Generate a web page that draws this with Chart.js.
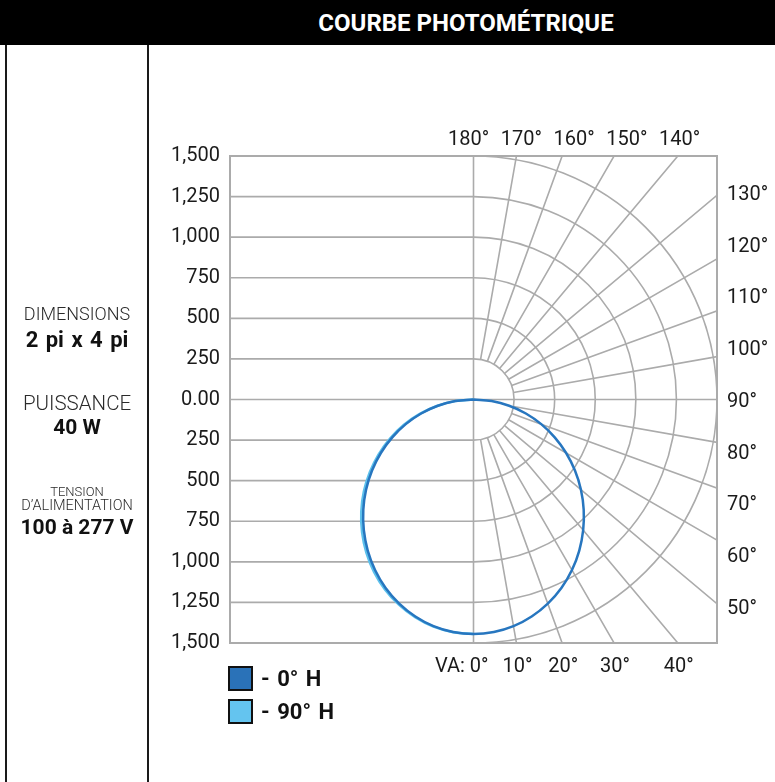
<!DOCTYPE html>
<html>
<head>
<meta charset="utf-8">
<script src="https://cdn.jsdelivr.net/npm/chart.js@4.4.1/dist/chart.umd.min.js"></script>
<style>
  html, body { margin: 0; padding: 0; background: #fff; }
  body { width: 775px; height: 782px; position: relative; overflow: hidden; font-family: Roboto, "Noto Sans", sans-serif; color: #1b1b1b; }
  #wrap { position: absolute; left: 0; top: 0; width: 775px; height: 782px; }
  #head { position: absolute; left: 0; top: 0; width: 775px; height: 45px; background: #000; }
  #head span { position: absolute; left: 466px; top: 23px; transform: translate(-50%, -50%); color: #fff; font-weight: 700; font-size: 24px; white-space: nowrap; }
  .vline { position: absolute; top: 45px; bottom: 0; width: 2px; background: #1a1a1a; }
  .side { position: absolute; left: 7px; width: 140px; text-align: center; transform: translateY(-50%); white-space: nowrap; line-height: 1; }
  .lt { font-weight: 300; color: #2a2a2a; }
  .bd { font-weight: 700; color: #111; }
  .lg { position: absolute; left: 228px; display: flex; align-items: center; font-weight: 700; font-size: 22px; color: #111; word-spacing: 2px; }
  .lg i { display: inline-block; width: 21px; height: 21px; border: 2px solid #111; margin-right: 8px; }
</style>
</head>
<body>
<div id="wrap"><canvas id="photo"></canvas></div>
<div id="head"><span>COURBE PHOTOMÉTRIQUE</span></div>
<div class="vline" style="left:5px"></div>
<div class="vline" style="left:147px"></div>

<div class="side lt" style="top:314px;font-size:18px">DIMENSIONS</div>
<div class="side bd" style="top:340px;font-size:22px;word-spacing:2px">2 pi x 4 pi</div>
<div class="side lt" style="top:403px;font-size:20.5px">PUISSANCE</div>
<div class="side bd" style="top:427px;font-size:21px">40 W</div>
<div class="side lt" style="top:491px;font-size:13px">TENSION</div>
<div class="side lt" style="top:506px;font-size:14.5px">D’ALIMENTATION</div>
<div class="side bd" style="top:527px;font-size:21px">100 à 277 V</div>

<div id="legend"></div>

<script>
// ---------- DATA ----------
const verticalAngles = [0, 5, 10, 15, 20, 25, 30, 35, 40, 45, 50, 55, 60, 65, 70, 75, 80, 85, 90];
const cd0H  = [1445, 1438, 1418, 1384, 1338, 1281, 1213, 1136, 1051, 960, 864, 763, 659, 552, 444, 334, 223, 112, 0];
const cd90H = [1445, 1439, 1421, 1389, 1345, 1291, 1226, 1151, 1068, 978, 882, 780, 675, 566, 456, 343, 229, 115, 0];
const seriesNames  = ['- 0° H', '- 90° H'];
const seriesColors = ['#2776bf', '#5dc1ec'];
const legendFills  = ['#2a72b8', '#64c4ef'];

const yTicks = [-1500, -1250, -1000, -750, -500, -250, 0, 250, 500, 750, 1000, 1250, 1500];
const rings = [250, 500, 750, 1000, 1250, 1500];
const spokeAngles = [10, 20, 30, 40, 50, 60, 70, 80, 100, 110, 120, 130, 140, 150, 160, 170];
const topLabels = ['180°', '170°', '160°', '150°', '140°'];
const rightLabels = ['130°', '120°', '110°', '100°', '90°', '80°', '70°', '60°', '50°'];
const bottomLabels = ['VA: 0°', '10°', '20°', '30°', '40°'];

const GRID = '#ababab';
const LABEL_FONT = '20px Roboto, "Noto Sans", sans-serif';

// polar (angle from nadir, candela) -> x/y, side = -1 left, +1 right
function toXY(angles, values, side) {
  return angles.map((a, i) => {
    const t = a * Math.PI / 180;
    return { x: side * values[i] * Math.sin(t), y: -values[i] * Math.cos(t) };
  });
}
const curve0 = toXY(verticalAngles, cd0H, -1).reverse().concat(toXY(verticalAngles, cd0H, 1).slice(1));
const curve90 = toXY(verticalAngles, cd90H, -1).reverse();

// ---------- POLAR GRID ----------
const polarGrid = {
  id: 'polarGrid',
  beforeDatasetsDraw(chart) {
    const { ctx, chartArea: a, scales: { x, y } } = chart;
    const cx = x.getPixelForValue(0), cy = y.getPixelForValue(0);
    const k = (y.getPixelForValue(0) - y.getPixelForValue(1000)) / 1000;
    ctx.save();
    ctx.beginPath(); ctx.rect(a.left, a.top, a.width, a.height); ctx.clip();
    ctx.strokeStyle = GRID; ctx.lineWidth = 1.6;

    ctx.beginPath();
    yTicks.forEach(v => { const py = y.getPixelForValue(v); ctx.moveTo(a.left, py); ctx.lineTo(cx, py); });
    ctx.moveTo(cx, a.top); ctx.lineTo(cx, a.bottom);
    ctx.moveTo(cx, cy); ctx.lineTo(a.right, cy);
    ctx.stroke();

    rings.forEach(r => {
      ctx.beginPath(); ctx.arc(cx, cy, r * k, -Math.PI / 2, Math.PI / 2); ctx.stroke();
    });

    ctx.beginPath();
    spokeAngles.forEach(d => {
      const t = d * Math.PI / 180, r0 = rings[0] * k, r1 = 4000 * k;
      ctx.moveTo(cx + r0 * Math.sin(t), cy + r0 * Math.cos(t));
      ctx.lineTo(cx + r1 * Math.sin(t), cy + r1 * Math.cos(t));
    });
    ctx.stroke();
    ctx.restore();

    ctx.save();
    ctx.strokeStyle = GRID; ctx.lineWidth = 2;
    ctx.strokeRect(a.left, a.top, a.width, a.height);
    ctx.restore();
  },
  afterDraw(chart) {
    const { ctx, chartArea: a, scales: { x, y } } = chart;
    const cx = x.getPixelForValue(0);
    ctx.save();
    ctx.font = LABEL_FONT; ctx.fillStyle = '#1b1b1b'; ctx.textBaseline = 'middle';

    // top row, evenly spaced
    ctx.textAlign = 'center';
    topLabels.forEach((t, i) => ctx.fillText(t, x.getPixelForValue(-30 + i * 325), a.top - 16));

    // right column, evenly spaced
    ctx.textAlign = 'left';
    const y0 = y.getPixelForValue(1260), y1 = y.getPixelForValue(-1290);
    rightLabels.forEach((t, i) => ctx.fillText(t, a.right + 10, y0 + (y1 - y0) * i / (rightLabels.length - 1)));

    // bottom row, under the spokes
    const h = a.bottom - y.getPixelForValue(0);
    bottomLabels.forEach((t, i) => {
      const px = cx + h * Math.tan(i * 10 * Math.PI / 180);
      if (i === 0) { ctx.textAlign = 'right'; ctx.fillText(t, px + 15, a.bottom + 24); }
      else { ctx.textAlign = 'center'; ctx.fillText(t, px + 1, a.bottom + 24); }
    });
    ctx.restore();
  }
};

// ---------- LEGEND ----------
const lg = document.getElementById('legend');
seriesNames.forEach((n, i) => {
  const d = document.createElement('div');
  d.className = 'lg';
  d.style.top = (666 + i * 33) + 'px';
  d.innerHTML = `<i style="background:${legendFills[i]}"></i>${n}`;
  lg.appendChild(d);
});

// ---------- CHART ----------
new Chart(document.getElementById('photo'), {
  type: 'scatter',
  data: {
    datasets: [
      { label: seriesNames[0], data: curve0, showLine: true, borderColor: seriesColors[0], borderWidth: 2.5, pointRadius: 0, tension: 0.4, fill: false },
      { label: seriesNames[1], data: curve90, showLine: true, borderColor: seriesColors[1], borderWidth: 2.5, pointRadius: 0, tension: 0.4, fill: false }
    ]
  },
  options: {
    responsive: true,
    maintainAspectRatio: false,
    animation: false,
    layout: { padding: { left: 150, right: 58, top: 156, bottom: 139 } },
    plugins: { legend: { display: false }, tooltip: { enabled: false } },
    scales: {
      x: { type: 'linear', min: -1500, max: 1500, display: false },
      y: {
        type: 'linear', min: -1500, max: 1500,
        afterFit: s => { s.width = 80; },
        afterBuildTicks: s => { s.ticks = yTicks.map(v => ({ value: v })); },
        grid: { display: false },
        border: { display: false },
        ticks: {
          padding: 2,
          color: '#1b1b1b',
          font: { family: 'Roboto, "Noto Sans", sans-serif', size: 20 },
          callback: v => v === 0 ? '0.00' : Math.abs(v).toLocaleString('en-US')
        }
      }
    }
  },
  plugins: [polarGrid]
});
</script>
</body>
</html>
